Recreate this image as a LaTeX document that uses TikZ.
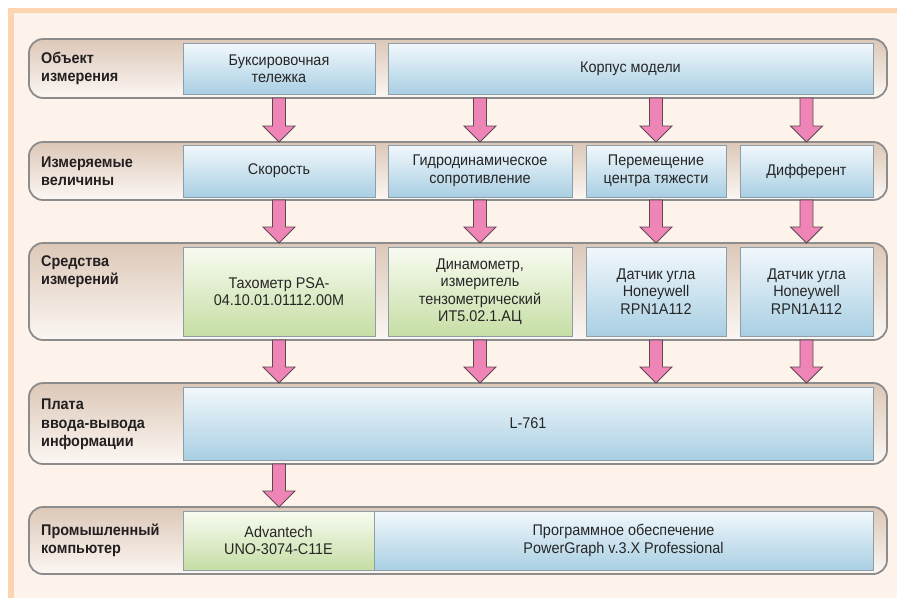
\documentclass[tikz,border=0pt]{standalone}
\usepackage{fontspec}
\setmainfont{Liberation Sans}[FakeStretch=0.93]
\usetikzlibrary{calc,positioning}
\definecolor{bgcream}{HTML}{FDF3EB}
\definecolor{bandorange}{HTML}{FCD4AF}
\definecolor{rowgray}{HTML}{8C8C8C}
\definecolor{rowtop}{HTML}{DCC8B8}
\definecolor{rowbot}{HTML}{FCF7F3}
\definecolor{boxgray}{HTML}{8E9EA8}
\definecolor{bluetop}{HTML}{F2F8FC}
\definecolor{bluebot}{HTML}{A9CFE3}
\definecolor{greentop}{HTML}{F8FBF1}
\definecolor{greenbot}{HTML}{C6DEA4}
\definecolor{arrowpink}{HTML}{EF84B6}
\definecolor{arrowline}{HTML}{5A4A50}
\definecolor{txtgray}{HTML}{262626}
\definecolor{lbldark}{HTML}{231F20}

% fat pink arrow between two points on one vertical
\newcommand{\fatarrow}[2]{%
  \path (#1) coordinate (fa-s) (#2) coordinate (fa-e);
  \draw[fatarrowline] ($(fa-s)+(-6.5,0)$) -- ($(fa-e)+(-6.5,-16)$) -- ($(fa-e)+(-16,-16)$)
    -- (fa-e) -- ($(fa-e)+(16,-16)$) -- ($(fa-e)+(6.5,-16)$) -- ($(fa-s)+(6.5,0)$) -- cycle;
}

\begin{document}
\begin{tikzpicture}[x=1pt, y=-1pt,
    rowbox/.style={draw=rowgray, line width=1.8pt, rounded corners=14pt, top color=rowtop, bottom color=rowbot, minimum width=858, inner sep=0, outer sep=0, anchor=north west},
    bluebox/.style={draw=boxgray, line width=0.8pt, top color=bluetop, bottom color=bluebot, inner sep=0, outer sep=0, anchor=north west, align=center, text=txtgray, font=\fontsize{15.5}{17.5}\selectfont},
    greenbox/.style={bluebox, top color=greentop, bottom color=greenbot},
    rowlabel/.style={anchor=west, align=left, inner sep=0, text=lbldark, font=\fontsize{15.5}{18.5}\selectfont\bfseries},
    fatarrowline/.style={draw=arrowline, line width=0.9pt, fill=arrowpink, line join=miter}
  ]
  \useasboundingbox (0,0) rectangle (897,598);
  \fill[bgcream] (14,13) rectangle (897,598);
  \fill[bandorange] (8,8) rectangle (897,13);
  \fill[bandorange] (8,8) rectangle (14,598);

  % rows
  \node[rowbox, minimum height=59] (row1) at (29,39) {};
  \node[rowbox, minimum height=58] (row2) at (29,142) {};
  \node[rowbox, minimum height=97] (row3) at (29,243) {};
  \node[rowbox, minimum height=81] (row4) at (29,383) {};
  \node[rowbox, minimum height=67] (row5) at (29,507) {};

  \node[rowlabel] (lbl1) at (41,68.5) {Объект\\измерения};
  \node[rowlabel] (lbl2) at (41,171) {Измеряемые\\величины};
  \node[rowlabel, anchor=north west] (lbl3) at (41,255) {Средства\\измерений};
  \node[rowlabel, anchor=north west] (lbl4) at (41,399) {Плата\\ввода-вывода\\информации};
  \node[rowlabel] (lbl5) at (41,540.5) {Промышленный\\компьютер};

  % object
  \node[bluebox, minimum width=192, minimum height=51] (buks) at (183,43) {Буксировочная\\тележка};
  \node[bluebox, minimum width=485, minimum height=51] (korpus) at (388,43) {Корпус модели};

  % quantities
  \node[bluebox, minimum width=192, minimum height=52] (skor) at (183,145) {Скорость};
  \node[bluebox, minimum width=184, minimum height=52] (gidro) at (388,145) {Гидродинамическое\\сопротивление};
  \node[bluebox, minimum width=140, minimum height=52] (perem) at (586,145) {Перемещение\\центра тяжести};
  \node[bluebox, minimum width=133, minimum height=52] (diff) at (740,145) {Дифферент};

  % instruments
  \node[greenbox, minimum width=192, minimum height=89] (tacho) at (183,247) {Тахометр PSA-\\04.10.01.01112.00M};
  \node[greenbox, minimum width=184, minimum height=89] (dinamo) at (388,247) {Динамометр,\\измеритель\\тензометрический\\ИТ5.02.1.АЦ};
  \node[bluebox, minimum width=140, minimum height=89] (datA) at (586,247) {Датчик угла\\Honeywell\\RPN1A112};
  \node[bluebox, minimum width=133, minimum height=89] (datB) at (740,247) {Датчик угла\\Honeywell\\RPN1A112};

  % board
  \node[bluebox, minimum width=690, minimum height=73] (plata) at (183,387) {L-761};

  % computer
  \node[greenbox, minimum width=191, minimum height=59] (advan) at (183,511) {Advantech\\UNO-3074-C11E};
  \node[bluebox, minimum width=499, minimum height=59] (progr) at (374,511) {Программное обеспечение\\PowerGraph v.3.X Professional};

  % arrows
  \coordinate (c1) at (279,0);
  \coordinate (c2) at (480,0);
  \coordinate (c3) at (656,0);
  \coordinate (c4) at (806.5,0);
  \foreach \c in {1,...,4} {
    \fatarrow{c\c |- row1.south}{c\c |- row2.north}
    \fatarrow{c\c |- row2.south}{c\c |- row3.north}
    \fatarrow{c\c |- row3.south}{c\c |- row4.north}
  }
  \fatarrow{c1 |- row4.south}{c1 |- row5.north}
\end{tikzpicture}
\end{document}
